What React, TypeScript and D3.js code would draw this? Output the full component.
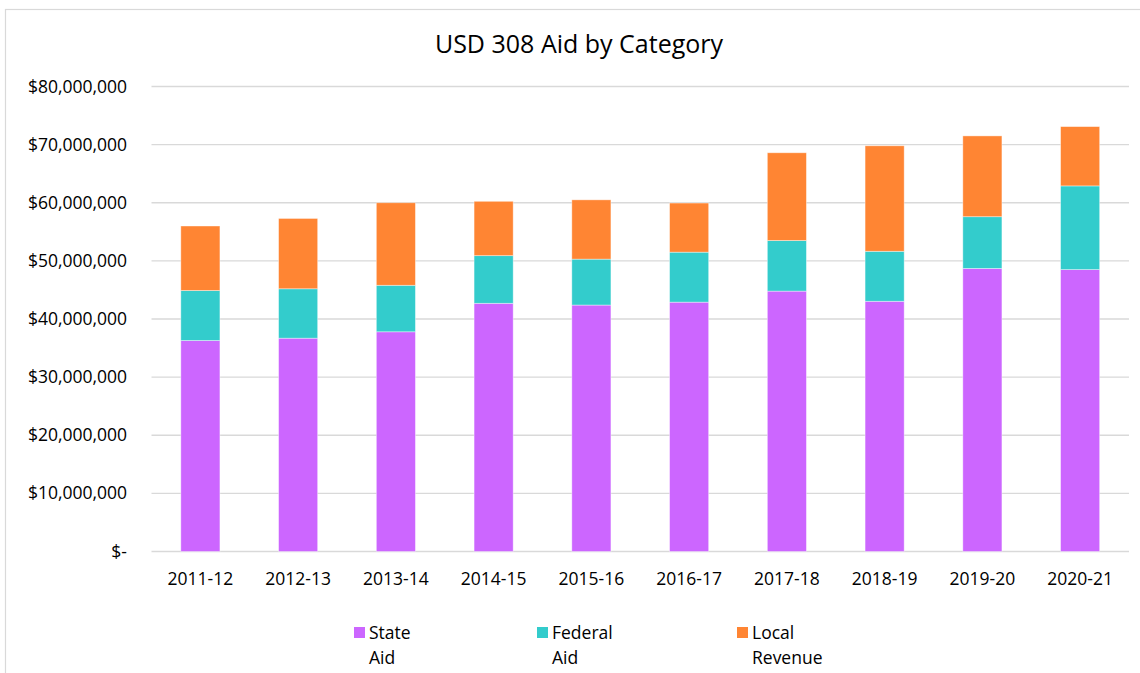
import React, { useRef, useEffect } from "react";
import * as d3 from "d3";

const years = ["2011-12", "2012-13", "2013-14", "2014-15", "2015-16", "2016-17", "2017-18", "2018-19", "2019-20", "2020-21"];
const stateAid = [36.3, 36.7, 37.8, 42.7, 42.4, 42.9, 44.8, 43.05, 48.7, 48.5];
const federalAid = [8.6, 8.5, 8.0, 8.2, 7.9, 8.6, 8.7, 8.6, 8.9, 14.4];
const localRevenue = [11.1, 12.1, 14.2, 9.35, 10.2, 8.45, 15.1, 18.15, 13.9, 10.2];
const seriesNames = ["State Aid", "Federal Aid", "Local Revenue"];
const seriesKeys = ["state", "federal", "local"];
const colors = ["#cc66ff", "#33cccc", "#ff8533"];
const yTicks = [0, 10, 20, 30, 40, 50, 60, 70, 80];

const W = 1140;
const H = 673;
const FONT = "'Open Sans', 'Noto Sans', sans-serif";

function App() {
    const svgRef = useRef(null);
    useEffect(() => {
        var svg = d3.select(svgRef.current);
        svg.selectChildren().remove();

        // chart frame
        svg.append("rect")
            .attr("x", 5.5).attr("y", 9.5)
            .attr("width", W + 20).attr("height", H + 20)
            .attr("fill", "#fff")
            .attr("stroke", "#d9d9d9")
            .attr("stroke-width", 1.2);

        svg.append("text")
            .attr("x", 579).attr("y", 53)
            .attr("text-anchor", "middle")
            .attr("font-family", FONT)
            .attr("font-size", 25)
            .attr("fill", "#000")
            .text("USD 308 Aid by Category");

        var x = d3.scaleBand().domain(years).range([151.5, 1129]).paddingInner(0.6).paddingOuter(0.3);
        var y = d3.scaleLinear().domain([0, 80]).range([551.5, 86.5]);

        var grid = svg.append("g");
        yTicks.forEach(t => {
            grid.append("line")
                .attr("x1", 151.5).attr("x2", 1129)
                .attr("y1", y(t)).attr("y2", y(t))
                .attr("stroke", "#d9d9d9")
                .attr("stroke-width", 1.3);
            grid.append("text")
                .attr("x", 127).attr("y", y(t) + 6)
                .attr("text-anchor", "end")
                .attr("font-family", FONT)
                .attr("font-size", 17.5)
                .attr("fill", "#000")
                .text(t === 0 ? "$-" : "$" + d3.format(",")(t * 1000000));
        });

        var rows = years.map((yr, i) => ({ year: yr, state: stateAid[i], federal: federalAid[i], local: localRevenue[i] }));
        var stacked = d3.stack().keys(seriesKeys)(rows);

        svg.append("g").selectAll("g")
            .data(stacked)
            .join("g")
            .attr("fill", (d, i) => colors[i])
            .selectAll("rect")
            .data(d => d)
            .join("rect")
            .attr("x", d => x(d.data.year))
            .attr("width", x.bandwidth())
            .attr("y", d => y(d[1]))
            .attr("height", d => y(d[0]) - y(d[1]))
            .attr("stroke", "#fff")
            .attr("stroke-opacity", 0.5)
            .attr("stroke-width", 0.8);

        svg.append("g").selectAll("text")
            .data(years)
            .join("text")
            .attr("x", d => x(d) + x.bandwidth() / 2)
            .attr("y", 585)
            .attr("text-anchor", "middle")
            .attr("font-family", FONT)
            .attr("font-size", 17.5)
            .attr("fill", "#000")
            .text(d => d);

        var legendX = [354, 537, 737];
        var legend = svg.append("g");
        seriesNames.forEach((name, i) => {
            legend.append("rect")
                .attr("x", legendX[i]).attr("y", 627)
                .attr("width", 11).attr("height", 11)
                .attr("fill", colors[i]);
            var words = name.split(" ");
            words.forEach((w, j) => {
                legend.append("text")
                    .attr("x", legendX[i] + 15).attr("y", 639 + j * 24.5)
                    .attr("font-family", FONT)
                    .attr("font-size", 17.5)
                    .attr("fill", "#000")
                    .text(w);
            });
        });
    }, []);
    return (
        <svg ref={svgRef} width={W} height={H}
            style={{ position: "absolute", left: 0, top: 0, display: "block", background: "#fff" }}></svg>
    );
}

export default App;
